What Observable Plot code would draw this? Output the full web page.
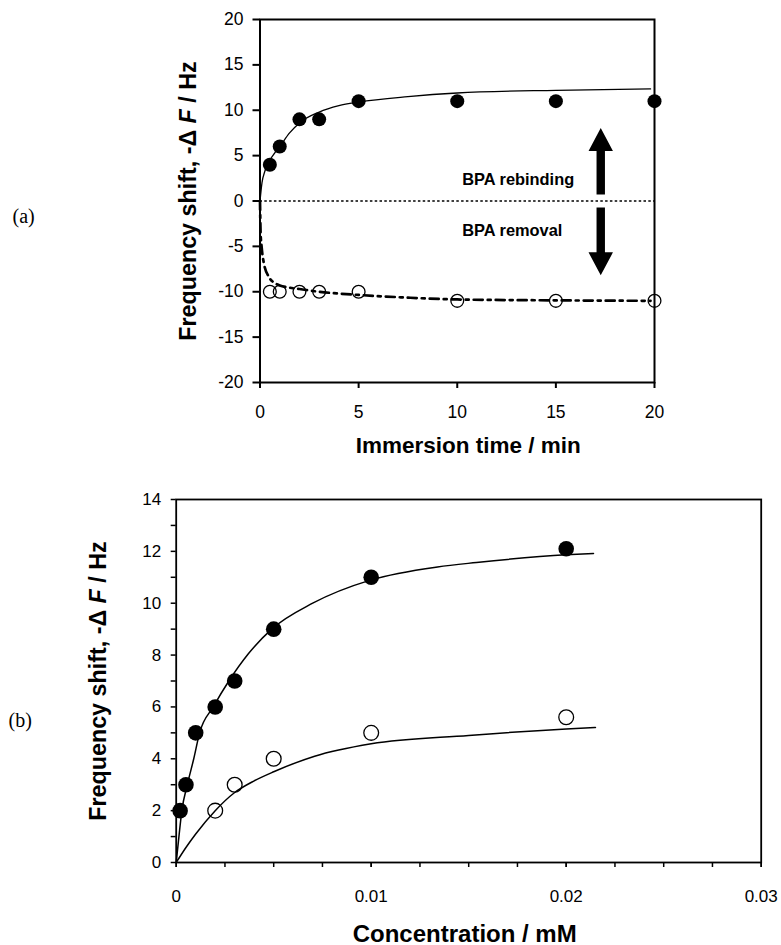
<!DOCTYPE html>
<html><head><meta charset="utf-8">
<script src="https://cdn.jsdelivr.net/npm/d3@7"></script>
<script src="https://cdn.jsdelivr.net/npm/@observablehq/plot@0.6"></script>
<style>
html,body{margin:0;padding:0;background:#fff;}
#wrap{position:relative;width:781px;height:945px;overflow:hidden;background:#fff;}
#wrap svg{position:absolute;left:0;max-width:none;}
</style></head><body><div id="wrap"></div>
<script>
// ---------- Panel (a) data ----------
const timeMin = [0.5, 1, 2, 3, 5, 10, 15, 20];
const rebindHz = [4, 6, 9, 9, 11, 11, 11, 11];
const removalHz = [-10, -10, -10, -10, -10, -11, -11, -11];
const rebindFitT = [0, 0.1, 0.25, 0.5, 0.75, 1, 1.5, 2, 3, 4, 5, 7.5, 10, 15, 19.8];
const rebindFitHz = [0, 2.0, 3.3, 4.5, 5.3, 6.0, 7.5, 8.6, 9.8, 10.5, 10.9, 11.5, 11.9, 12.2, 12.35];
const removalFitT = [0, 0.03, 0.08, 0.2, 0.46, 0.75, 1, 1.5, 2, 3, 5, 7.5, 10, 15, 19.8];
const removalFitHz = [0, -3.5, -5.0, -6.9, -8.4, -9.05, -9.3, -9.55, -9.7, -10.0, -10.35, -10.65, -10.85, -10.95, -11.0];
const timeTicks = [0, 5, 10, 15, 20];
const shiftTicksA = [-20, -15, -10, -5, 0, 5, 10, 15, 20];
const annotText = ["BPA rebinding", "BPA removal"];
const annotT = [10.25, 10.25];
const annotHz = [2.3, -3.25];
const arrowT = 17.3;
const arrowUpHz = [0.65, 8.0];
const arrowDownHz = [-0.78, -8.25];

// ---------- Panel (b) data ----------
const concMIP = [0.0002, 0.0005, 0.001, 0.002, 0.003, 0.005, 0.01, 0.02];
const mipHz = [2, 3, 5, 6, 7, 9, 11, 12.1];
const concNIP = [0.002, 0.003, 0.005, 0.01, 0.02];
const nipHz = [2, 3, 4, 5, 5.6];
const mipFitC = [0, 0.00014, 0.00029, 0.00057, 0.0009, 0.0012, 0.0019, 0.0027, 0.0037, 0.0049, 0.007, 0.01, 0.0134, 0.0154, 0.02, 0.0214];
const mipFitHz = [0, 1, 2, 3, 4, 5, 6, 7, 8.05, 9, 10, 10.9, 11.4, 11.57, 11.87, 11.92];
const nipFitC = [0, 0.0005, 0.001, 0.002, 0.003, 0.004, 0.005, 0.0071, 0.01, 0.015, 0.02, 0.0215];
const nipFitHz = [0, 0.58, 1.1, 2.0, 2.7, 3.15, 3.5, 4.1, 4.58, 4.9, 5.15, 5.21];
const concTicksMinor = [0, 0.0025, 0.005, 0.0075, 0.01, 0.0125, 0.015, 0.0175, 0.02, 0.0225, 0.025, 0.0275, 0.03];
const concTicksMajor = [0, 0.01, 0.02, 0.03];
const concTickLabels = ["0", "0.01", "0.02", "0.03"];
const shiftTicksB = [0, 1, 2, 3, 4, 5, 6, 7, 8, 9, 10, 11, 12, 13, 14];

const yTitle = "Frequency shift, -\u0394 F / Hz";
const xTitleA = "Immersion time / min";
const xTitleB = "Concentration / mM";

const font = "'Liberation Sans', Arial, Helvetica, sans-serif";
const serif = "'Liberation Serif', 'Times New Roman', serif";
const pts = (xs, ys) => xs.map((x, i) => ({x, y: ys[i]}));

function arrowMark(xv, y0v, y1v) {
  return (index, scales) => {
    const X = scales.x(xv), Y0 = scales.y(y0v), Y1 = scales.y(y1v);
    const dir = Math.sign(Y1 - Y0);
    const headLen = 23, headHalf = 12.2, shaftHalf = 4.2;
    const Yb = Y1 - dir * headLen;
    const p = [[X - shaftHalf, Y0], [X - shaftHalf, Yb], [X - headHalf, Yb], [X, Y1],
               [X + headHalf, Yb], [X + shaftHalf, Yb], [X + shaftHalf, Y0]];
    return d3.create("svg:path").attr("d", "M" + p.map(q => q.join(",")).join("L") + "Z")
      .attr("fill", "black").node();
  };
}

const plotA = Plot.plot({
  width: 781, height: 470,
  marginLeft: 259.5, marginRight: 127, marginTop: 19, marginBottom: 88,
  x: {domain: [0, 20]}, y: {domain: [-20, 20]},
  style: {fontFamily: font, background: "white", color: "black", overflow: "visible"},
  marks: [
    Plot.ruleY([0], {x1: 0, x2: 20, stroke: "black", strokeWidth: 1.3, strokeDasharray: "2.5,2.3"}),
    Plot.line(pts(rebindFitT, rebindFitHz), {x: "x", y: "y", curve: "monotone-x", stroke: "black", strokeWidth: 1.3}),
    Plot.line(pts(removalFitT, removalFitHz), {x: "x", y: "y", curve: "monotone-x", stroke: "black", strokeWidth: 2.7, strokeDasharray: "9,5,3,5"}),
    Plot.dot(pts(timeMin, removalHz), {x: "x", y: "y", r: 6.4, fill: "none", stroke: "black", strokeWidth: 1.3}),
    Plot.dot(pts(timeMin, rebindHz), {x: "x", y: "y", r: 7, fill: "black", stroke: "none"}),
    Plot.text(annotText, {x: annotT, y: annotHz, text: d => d, textAnchor: "start", fontSize: 16.4, fontWeight: "bold"}),
    arrowMark(arrowT, arrowUpHz[0], arrowUpHz[1]),
    arrowMark(arrowT, arrowDownHz[0], arrowDownHz[1]),
    Plot.frame({stroke: "black", strokeWidth: 2}),
    Plot.axisX(timeTicks, {tickSize: 6, tickPadding: 17, fontSize: 17.5, strokeWidth: 2, label: null, tickFormat: d => String(d)}),
    Plot.axisY(shiftTicksA, {tickSize: 7, tickPadding: 9.5, fontSize: 17.5, strokeWidth: 2, label: null, tickFormat: d => String(d)}),
    Plot.text([xTitleA], {text: d => d, frameAnchor: "bottom", dx: 11, dy: 70, lineAnchor: "bottom", textAnchor: "middle", fontSize: 22.5, fontWeight: "bold"}),
    Plot.text([yTitle], {text: d => d, frameAnchor: "left", rotate: -90, dx: -64.5, lineAnchor: "bottom", textAnchor: "middle", fontSize: 23.3, fontWeight: "bold"}),
    Plot.text(["(a)"], {text: d => d, frameAnchor: "left", dx: -247.5, dy: 16, textAnchor: "start", fontSize: 20, fontFamily: serif})
  ]
});

const plotB = Plot.plot({
  width: 781, height: 475,
  marginLeft: 175.7, marginRight: 20.3, marginTop: 29, marginBottom: 83,
  x: {domain: [0, 0.03]}, y: {domain: [0, 14]},
  style: {fontFamily: font, background: "white", color: "black", overflow: "visible"},
  marks: [
    Plot.line(pts(mipFitC, mipFitHz), {x: "x", y: "y", curve: "monotone-x", stroke: "black", strokeWidth: 1.5}),
    Plot.line(pts(nipFitC, nipFitHz), {x: "x", y: "y", curve: "monotone-x", stroke: "black", strokeWidth: 1.5}),
    Plot.dot(pts(concNIP, nipHz), {x: "x", y: "y", r: 7.4, fill: "none", stroke: "black", strokeWidth: 1.3}),
    Plot.dot(pts(concMIP, mipHz), {x: "x", y: "y", r: 7.8, fill: "black", stroke: "none"}),
    Plot.frame({stroke: "black", strokeWidth: 1.8}),
    Plot.axisX(concTicksMinor, {tickSize: 5, tickFormat: () => "", strokeWidth: 1.5, label: null}),
    Plot.axisX(concTicksMajor, {tickSize: 5, tickPadding: 22, fontSize: 17, strokeWidth: 1.5, label: null,
      tickFormat: d => concTickLabels[concTicksMajor.indexOf(d)]}),
    Plot.axisY(shiftTicksB, {tickSize: 5, tickPadding: 10, fontSize: 17, strokeWidth: 1.5, label: null,
      tickFormat: d => (d % 2 === 0 ? String(d) : "")}),
    Plot.text([xTitleB], {text: d => d, frameAnchor: "bottom", dx: -4, dy: 79, lineAnchor: "bottom", textAnchor: "middle", fontSize: 24, fontWeight: "bold"}),
    Plot.text([yTitle], {text: d => d, frameAnchor: "left", rotate: -90, dx: -70, lineAnchor: "bottom", textAnchor: "middle", fontSize: 23.3, fontWeight: "bold"}),
    Plot.text(["(b)"], {text: d => d, frameAnchor: "left", dx: -167.7, dy: 39.5, textAnchor: "start", fontSize: 20, fontFamily: serif})
  ]
});

const wrap = document.getElementById("wrap");
plotA.style.top = "0px";
plotB.style.top = "470px";
wrap.appendChild(plotA);
wrap.appendChild(plotB);

// italic F in the y titles
for (const svg of [plotA, plotB]) {
  d3.select(svg).selectAll("text").filter(function () { return this.textContent === yTitle; })
    .each(function () {
      const t = d3.select(this);
      t.text(null);
      t.append("tspan").text("Frequency shift, -\u0394 ");
      t.append("tspan").attr("font-style", "italic").text("F");
      t.append("tspan").text(" / Hz");
    });
}
</script>
</body></html>
